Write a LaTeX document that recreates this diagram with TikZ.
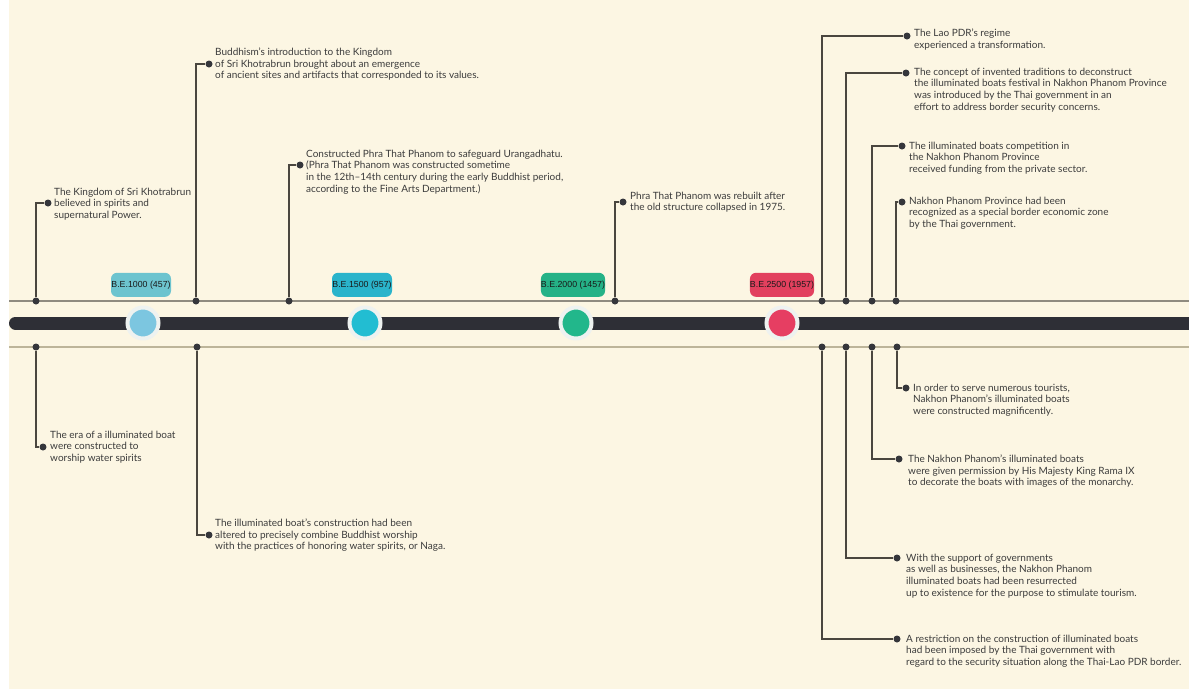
\documentclass[tikz,border=0pt]{standalone}
\usepackage{fontspec}
\setmainfont{Lato}
\newfontfamily\badgefont{Liberation Sans}
\usetikzlibrary{positioning}
\definecolor{cream}{HTML}{FCF6E3}
\definecolor{railtop}{HTML}{8F8B80}
\definecolor{railbot}{HTML}{BDB59A}
\definecolor{barcol}{HTML}{2E2F36}
\definecolor{dotcol}{HTML}{35363B}
\definecolor{linkcol}{HTML}{4A463F}
\definecolor{notecol}{HTML}{3C3C3C}
\definecolor{ringcol}{HTML}{EEF2F0}
\definecolor{stoneA}{HTML}{7CC6E0}
\definecolor{stoneB}{HTML}{22BDD2}
\definecolor{stoneC}{HTML}{22B78B}
\definecolor{stoneD}{HTML}{E63E62}
\definecolor{tagA}{HTML}{6DC4CF}
\definecolor{tagB}{HTML}{2AB4CB}
\definecolor{tagC}{HTML}{25B287}
\definecolor{tagD}{HTML}{E2405E}

\begin{document}
\begin{tikzpicture}[x=1pt,y=-1pt,
    dot/.style={circle,fill=dotcol,inner sep=0,minimum size=7pt},
    link/.style={draw=linkcol,line width=1.2pt},
    note/.style={anchor=north west,align=left,inner sep=0,text=notecol,
        font=\fontsize{10}{11.7}\selectfont},
    stone/.style={circle,inner sep=0,minimum size=31pt,draw=ringcol,line width=4pt,outer sep=2pt},
    tag/.style={rounded corners=6pt,minimum width=60pt,minimum height=24pt,inner sep=0,
        text=black!90,font=\badgefont\fontsize{8.8}{10}\selectfont}]
    \useasboundingbox (0,0) rectangle (1189,689);
    \fill[white] (0,0) rectangle (1189,689);
    \fill[cream] (9,0) rectangle (1189,689);

    % rails and main bar
    \draw[railtop,line width=1.3pt] (9,301) -- (1189,301);
    \draw[railbot,line width=1.3pt] (9,347) -- (1189,347);
    \draw[barcol,line width=13pt,line cap=round] (15.5,323) -- (1195,323);

    % milestones
    \node[stone,fill=stoneA] (m1) at (143,323) {};
    \node[stone,fill=stoneB] (m2) at (365,323) {};
    \node[stone,fill=stoneC] (m3) at (576,323) {};
    \node[stone,fill=stoneD] (m4) at (782,323) {};
    \node[tag,fill=tagA,above=8.5pt of m1,xshift=-2pt] (t1) {B.E.1000 (457)};
    \node[tag,fill=tagB,above=8.5pt of m2,xshift=-3pt] (t2) {B.E.1500 (957)};
    \node[tag,fill=tagC,above=8.5pt of m3,xshift=-3pt] (t3) {B.E.2000 (1457)};
    \node[tag,fill=tagD,above=8.5pt of m4] (t4) {B.E.2500 (1957)};

    % dots on the rails
    \foreach \n/\x in {A/36,B/196,C/289,D/615,E/822,F/846,G/872,H/896}
        \node[dot] (u\n) at (\x,301) {};
    \foreach \n/\x in {a/36,b/197,p/822,q/846,r/872,s/897}
        \node[dot] (l\n) at (\x,347) {};

    % upper events
    \node[dot] (eA) at (48,203) {};
    \node[dot] (eB) at (209,64) {};
    \node[dot] (eC) at (300,165) {};
    \node[dot] (eD) at (623,202) {};
    \node[dot] (eE) at (907,36) {};
    \node[dot] (eF) at (906,73) {};
    \node[dot] (eG) at (902,146) {};
    \node[dot] (eH) at (902,202) {};
    \foreach \n in {A,B,C,D,E,F,G,H}
        \draw[link] (u\n) |- (e\n);

    \node[note] (nA) at (54,187.5) {The Kingdom of Sri Khotrabrun\\believed in spirits and\\supernatural Power.};
    \node[note] (nB) at (215,47.5) {Buddhism's introduction to the Kingdom\\of Sri Khotrabrun brought about an emergence\\of ancient sites and artifacts that corresponded to its values.};
    \node[note] (nC) at (306,149.5) {Constructed Phra That Phanom to safeguard Urangadhatu.\\(Phra That Phanom was constructed sometime\\in the 12th--14th century during the early Buddhist period,\\according to the Fine Arts Department.)};
    \node[note] (nD) at (630,191.5) {Phra That Phanom was rebuilt after\\the old structure collapsed in 1975.};
    \node[note] (nE) at (914,28.5) {The Lao PDR's regime\\experienced a transformation.};
    \node[note] (nF) at (914,67.5) {The concept of invented traditions to deconstruct\\the illuminated boats festival in Nakhon Phanom Province\\was introduced by the Thai government in an\\effort to address border security concerns.};
    \node[note] (nG) at (909,141.5) {The illuminated boats competition in\\the Nakhon Phanom Province\\received funding from the private sector.};
    \node[note] (nH) at (909,196.5) {Nakhon Phanom Province had been\\recognized as a special border economic zone\\by the Thai government.};

    % lower events
    \node[dot] (ea) at (43,447) {};
    \node[dot] (eb) at (209,535) {};
    \node[dot] (ep) at (897,639) {};
    \node[dot] (eq) at (897,558) {};
    \node[dot] (er) at (899,459) {};
    \node[dot] (es) at (906,388) {};
    \foreach \n in {a,b,p,q,r,s}
        \draw[link] (l\n) |- (e\n);

    \node[note] (na) at (50,430.5) {The era of a illuminated boat\\were constructed to\\worship water spirits};
    \node[note] (nb) at (215,518.5) {The illuminated boat's construction had been\\altered to precisely combine Buddhist worship\\with the practices of honoring water spirits, or Naga.};
    \node[note] (ns) at (913,383.5) {In order to serve numerous tourists,\\Nakhon Phanom's illuminated boats\\were constructed magnificently.};
    \node[note] (nr) at (908,454.5) {The Nakhon Phanom's illuminated boats\\were given permission by His Majesty King Rama IX\\to decorate the boats with images of the monarchy.};
    \node[note] (nq) at (906,553.5) {With the support of governments\\as well as businesses, the Nakhon Phanom\\illuminated boats had been resurrected\\up to existence for the purpose to stimulate tourism.};
    \node[note] (np) at (906,634.5) {A restriction on the construction of illuminated boats\\had been imposed by the Thai government with\\regard to the security situation along the Thai-Lao PDR border.};
\end{tikzpicture}
\end{document}
